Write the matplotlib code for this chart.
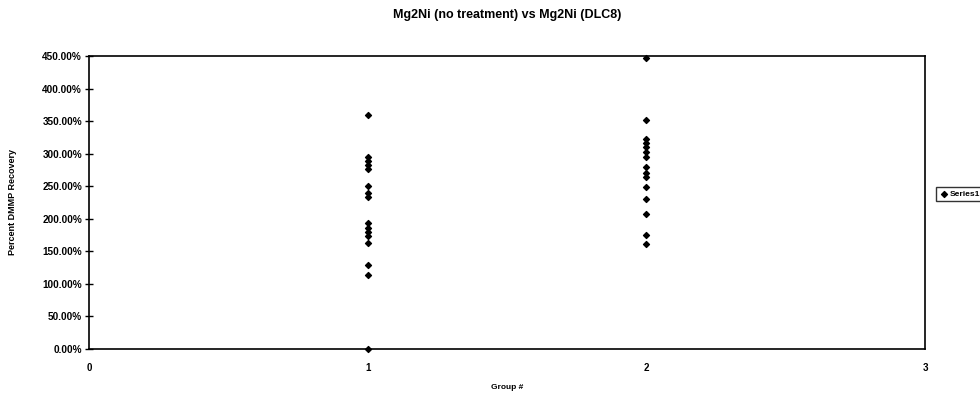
import matplotlib
matplotlib.use("Agg")
import matplotlib.pyplot as plt
from matplotlib.ticker import FuncFormatter

plt.rcParams['font.family'] = ['Liberation Sans', 'DejaVu Sans']
plt.rcParams['font.weight'] = 'bold'

group1 = [3.59, 2.95, 2.89, 2.83, 2.76, 2.50, 2.39, 2.34, 1.93, 1.86, 1.80, 1.74, 1.63, 1.29, 1.14, 0.0]
group2 = [4.47, 3.52, 3.22, 3.16, 3.10, 3.03, 2.95, 2.80, 2.70, 2.64, 2.49, 2.31, 2.07, 1.75, 1.61]
x_ticks = [0, 1, 2, 3]
y_ticks = [0, 0.5, 1.0, 1.5, 2.0, 2.5, 3.0, 3.5, 4.0, 4.5]

xs = [1] * len(group1) + [2] * len(group2)
ys = group1 + group2

fig = plt.figure(figsize=(9.8, 3.96), dpi=100)
ax = fig.add_axes([0.0908, 0.1187, 0.8531, 0.7399])
ax.scatter(xs, ys, marker='D', s=9, color='black', label='Series1', clip_on=False, zorder=3)

ax.set_xlim(0, 3)
ax.set_ylim(0, 4.5)
ax.set_xticks(x_ticks)
ax.set_yticks(y_ticks)
ax.yaxis.set_major_formatter(FuncFormatter(lambda v, p: f"{v*100:.2f}%"))
ax.tick_params(axis='y', direction='inout', length=6, width=1, labelsize=7.2, pad=2)
ax.tick_params(axis='x', direction='inout', length=0, labelsize=7, pad=10)
for lab in ax.get_xticklabels() + ax.get_yticklabels():
    lab.set_fontweight('bold')
for s in ax.spines.values():
    s.set_linewidth(1.2)
    s.set_color('black')

ax.set_title('Mg2Ni (no treatment) vs Mg2Ni (DLC8)', fontsize=9, fontweight='bold', pad=27)
ax.set_xlabel('Group #', fontsize=6, fontweight='bold', labelpad=8)
ax.set_ylabel('Percent DMMP Recovery', fontsize=6.5, fontweight='bold', labelpad=18)

leg = fig.legend(loc='center left', bbox_to_anchor=(0.951, 0.51), fontsize=6,
                 frameon=True, fancybox=False, edgecolor='black', handletextpad=0.2,
                 borderpad=0.4, markerscale=1.0, handlelength=1.0)
leg.get_frame().set_linewidth(1.0)
for t in leg.get_texts():
    t.set_fontweight('bold')

fig.savefig('out.png', dpi=100)
